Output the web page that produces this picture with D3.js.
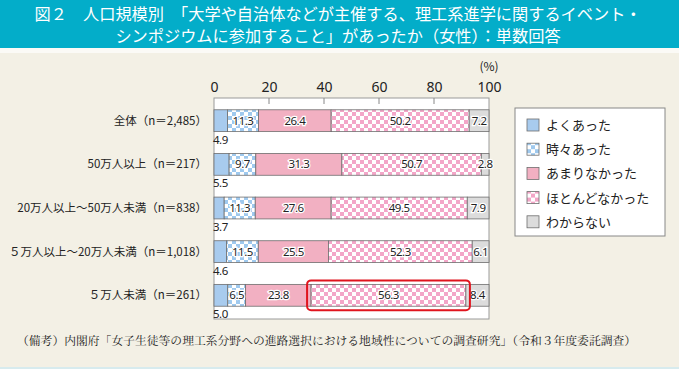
<!DOCTYPE html>
<html lang="ja">
<head>
<meta charset="UTF-8">
<title>人口規模別 理工系イベント参加</title>
<style>
  body { margin: 0; background: #f3f0e5; }
  svg { display: block; font-family: "Noto Sans CJK JP", "Noto Sans", sans-serif; }
</style>
</head>
<body>
<script src="https://d3js.org/d3.v7.min.js"></script>
<script>
  // data
  const categories = ["全体（n＝2,485）", "50万人以上（n＝217）", "20万人以上～50万人未満（n＝838）",
    "５万人以上～20万人未満（n＝1,018）", "５万人未満（n＝261）"];
  const seriesNames = ["よくあった", "時々あった", "あまりなかった", "ほとんどなかった", "わからない"];
  const often = [4.9, 5.5, 3.7, 4.6, 5.0];
  const sometimes = [11.3, 9.7, 11.3, 11.5, 6.5];
  const rarely = [26.4, 31.3, 27.6, 25.5, 23.8];
  const never = [50.2, 50.7, 49.5, 52.3, 56.3];
  const unknown = [7.2, 2.8, 7.9, 6.1, 8.4];
  const tickValues = [0, 20, 40, 60, 80, 100];

  const W = 679, H = 369;
  const svg = d3.select("body").append("svg").attr("width", W).attr("height", H);

  // patterns
  const defs = svg.append("defs");
  function checker(id, col) {
    const p = defs.append("pattern").attr("id", id)
      .attr("patternUnits", "userSpaceOnUse").attr("width", 8).attr("height", 8);
    p.append("rect").attr("width", 8).attr("height", 8).attr("fill", "#fff");
    p.append("rect").attr("width", 4).attr("height", 4).attr("fill", col);
    p.append("rect").attr("x", 4).attr("y", 4).attr("width", 4).attr("height", 4).attr("fill", col);
  }
  checker("chkBlue", "#9fc9ee");
  checker("chkPink", "#f3a6c8");
  const fills = ["#a8cbee", "url(#chkBlue)", "#f2b0c2", "url(#chkPink)", "#dcdcdc"];

  // background + title banner
  svg.append("rect").attr("width", W).attr("height", H).attr("fill", "#f3f0e5");
  svg.append("rect").attr("width", W).attr("height", 48).attr("fill", "#03adc9");
  svg.append("rect").attr("y", 48).attr("width", W).attr("height", 5).attr("fill", "#fbfaf6");
  svg.append("rect").attr("y", H - 2).attr("width", W).attr("height", 2).attr("fill", "#d7ebee");

  const title = svg.append("g").attr("fill", "#fff").attr("font-size", 16.2).attr("text-anchor", "middle");
  title.append("text").attr("x", 338).attr("y", 20)
    .text("図２　人口規模別　「大学や自治体などが主催する、理工系進学に関するイベント・");
  title.append("text").attr("x", 338).attr("y", 42)
    .text("シンポジウムに参加すること」があったか（女性）：単数回答");

  // scales
  const x = d3.scaleLinear().domain([0, 100]).range([214, 489]);
  const y = d3.scaleBand().domain(categories).range([98, 318]).paddingInner(0.5).paddingOuter(0.27);

  // plot box
  svg.append("rect").attr("x", x(0)).attr("y", 98).attr("width", x(100) - x(0)).attr("height", 221)
    .attr("fill", "#fff").attr("stroke", "#9a9a9a").attr("stroke-width", 1);

  // axis
  const axis = d3.axisTop(x).tickValues(tickValues).tickSize(0).tickPadding(6);
  const ag = svg.append("g").attr("transform", `translate(0,98)`).call(axis);
  ag.select(".domain").remove();
  ag.selectAll("text").attr("font-size", 14).attr("fill", "#222")
    .attr("font-family", "\"Noto Sans\", sans-serif");
  svg.selectAll(".tk").data(tickValues.slice(1, -1)).join("line")
    .attr("x1", d => x(d)).attr("x2", d => x(d)).attr("y1", 98).attr("y2", 104)
    .attr("stroke", "#888");
  svg.append("text").attr("x", 489).attr("y", 71).attr("text-anchor", "middle")
    .attr("font-size", 12).attr("fill", "#222").text("(%)");

  // stacked bars
  const series = [often, sometimes, rarely, never, unknown];
  const rows = categories.map((c, i) => {
    let acc = 0;
    return series.map((s, k) => {
      const seg = { cat: c, k: k, v: s[i], x0: acc, x1: acc + s[i] };
      acc += s[i];
      return seg;
    });
  });

  rows.forEach(segs => {
    const g = svg.append("g");
    g.selectAll("rect").data(segs).join("rect")
      .attr("x", d => x(d.x0)).attr("y", d => y(d.cat))
      .attr("width", d => x(d.x1) - x(d.x0)).attr("height", y.bandwidth())
      .attr("fill", d => fills[d.k]).attr("stroke", "#6e6e6e").attr("stroke-width", 0.8);
    g.selectAll("text").data(segs).join("text")
      .attr("x", d => d.k === 0 ? x(0) - 1 : (x(d.x0) + x(d.x1)) / 2)
      .attr("y", d => d.k === 0 ? y(d.cat) + y.bandwidth() + 12 : y(d.cat) + y.bandwidth() / 2 + 4)
      .attr("text-anchor", d => d.k === 0 ? "start" : "middle")
      .attr("font-size", 11.5).attr("fill", "#222")
      .attr("stroke", d => d.k === 0 ? "none" : "#fff").attr("stroke-width", 2.5)
      .attr("paint-order", "stroke").attr("letter-spacing", -0.5)
      .attr("font-family", "\"Noto Sans\", sans-serif")
      .text(d => d.v.toFixed(1));
  });

  // category labels
  svg.selectAll(".cat").data(categories).join("text")
    .attr("x", 207).attr("y", d => y(d) + y.bandwidth() / 2 + 4)
    .attr("text-anchor", "end").attr("font-size", 11.5).attr("fill", "#222").text(d => d);

  // highlight around last row "ほとんどなかった"
  const hl = rows[rows.length - 1][3];
  svg.append("rect").attr("x", x(hl.x0) - 4).attr("y", y(hl.cat) - 4)
    .attr("width", x(hl.x1) - x(hl.x0) + 8).attr("height", y.bandwidth() + 8)
    .attr("rx", 4).attr("fill", "none").attr("stroke", "#e0141e").attr("stroke-width", 2);

  // legend
  const lg = svg.append("g").attr("transform", "translate(515,108)");
  lg.append("rect").attr("width", 150).attr("height", 128).attr("fill", "#fff")
    .attr("stroke", "#888").attr("stroke-width", 1);
  const li = lg.selectAll(".li").data(seriesNames).join("g")
    .attr("transform", (d, i) => `translate(12,${17 + i * 24.2})`);
  li.append("rect").attr("y", -6).attr("width", 12).attr("height", 12)
    .attr("fill", (d, i) => fills[i]).attr("stroke", "#6e6e6e").attr("stroke-width", 0.8);
  li.append("text").attr("x", 19).attr("y", 5).attr("font-size", 13).attr("fill", "#222").text(d => d);

  // footnote
  svg.append("text").attr("x", 17).attr("y", 345).attr("font-size", 11.8).attr("fill", "#222")
    .attr("font-family", "\"Noto Serif CJK JP\", \"Noto Sans CJK JP\", serif")
    .text("（備考）内閣府「女子生徒等の理工系分野への進路選択における地域性についての調査研究」（令和３年度委託調査）");
</script>
</body>
</html>
